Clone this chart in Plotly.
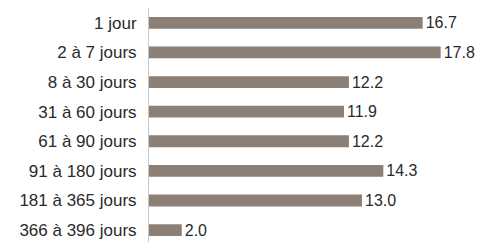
import plotly.graph_objects as go

categories = ["1 jour", "2 à 7 jours", "8 à 30 jours", "31 à 60 jours",
              "61 à 90 jours", "91 à 180 jours", "181 à 365 jours", "366 à 396 jours"]
values = [16.7, 17.8, 12.2, 11.9, 12.2, 14.3, 13.0, 2.0]
value_labels = [f"{v:.1f}" for v in values]

FONT = "Liberation Sans, Arial, sans-serif"

fig = go.Figure(go.Bar(
    y=categories, x=values, orientation="h",
    marker=dict(color="#8c7f76", line=dict(width=0)),
    width=0.4,
    text=value_labels, textposition="outside", cliponaxis=False,
    constraintext="none",
    textfont=dict(family=FONT, size=16, color="#2a2a2a"),
    hoverinfo="skip",
))

fig.update_layout(
    width=480, height=242,
    margin=dict(l=149, r=0, t=8, b=0),
    paper_bgcolor="white", plot_bgcolor="white",
    showlegend=False,
    xaxis=dict(range=[0, 20.2], visible=False),
    yaxis=dict(range=[7.4, -0.5], showgrid=False, zeroline=False,
               showline=True, linecolor="#c8c8c8", linewidth=1,
               ticks="", ticklabelstandoff=8,
               tickfont=dict(family=FONT, size=17, color="#2a2a2a")),
)

fig.write_html("out.html", config={"displayModeBar": False},
               post_script="document.body.style.margin='0';")
